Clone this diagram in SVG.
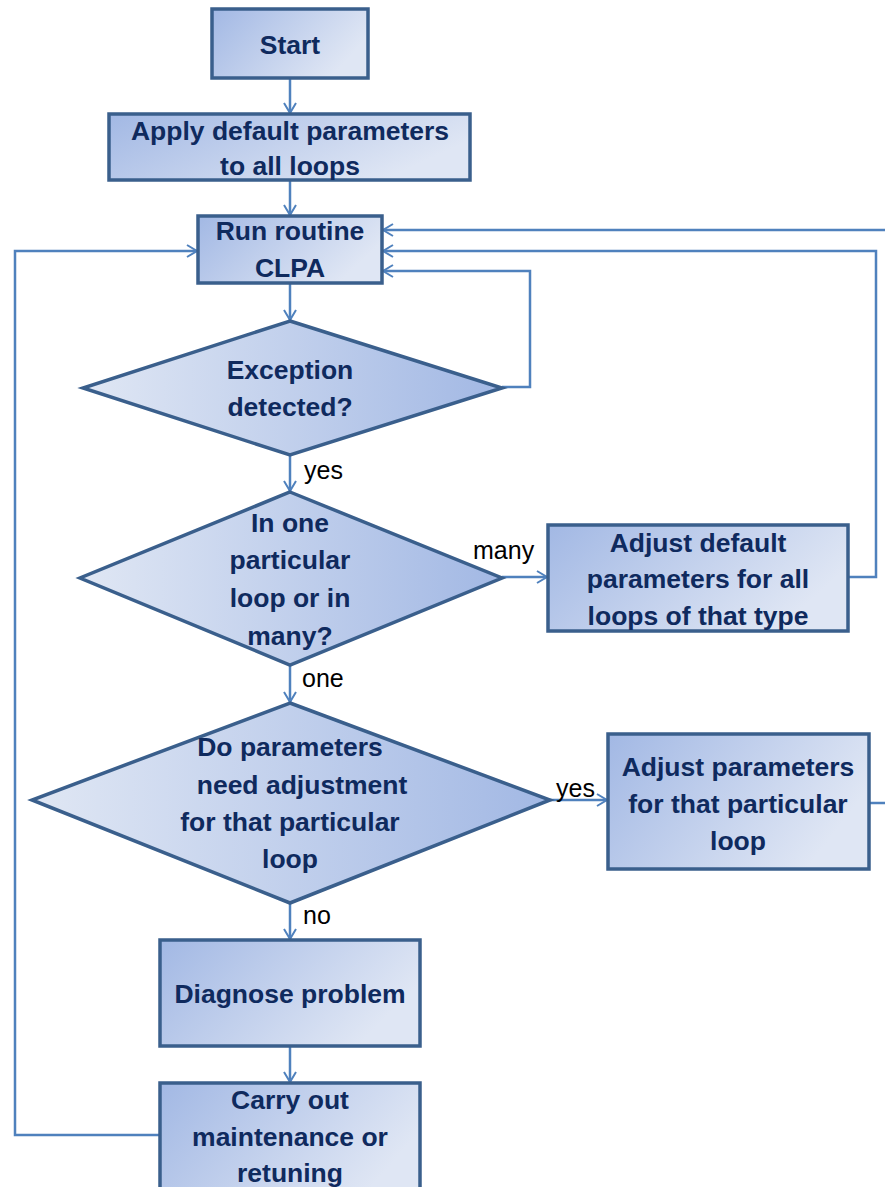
<svg xmlns="http://www.w3.org/2000/svg" width="885" height="1187" viewBox="0 0 885 1187">
<defs>
<linearGradient id="gRect" x1="0" y1="0" x2="1" y2="0.4">
<stop offset="0" stop-color="#A2B8E4"/>
<stop offset="1" stop-color="#DFE6F4"/>
</linearGradient>
<linearGradient id="gDia" x1="0" y1="0" x2="1" y2="0">
<stop offset="0" stop-color="#E0E7F4"/>
<stop offset="1" stop-color="#A2B8E4"/>
</linearGradient>
<marker id="arr" markerWidth="14" markerHeight="14" refX="11" refY="7" orient="auto" markerUnits="userSpaceOnUse">
<polyline points="1,1 11,7 1,13" fill="none" stroke="#4F81BD" stroke-width="2"/>
</marker>
<style>
.box{fill:url(#gRect);stroke:#3A5F8C;stroke-width:3.5}
.dia{fill:url(#gDia);stroke:#3A5F8C;stroke-width:3.5}
.t{font-family:"Liberation Sans",Arial,sans-serif;font-weight:bold;font-size:26.5px;fill:#0F2A5E;text-anchor:middle}
.lbl{font-family:"Liberation Sans",Arial,sans-serif;font-size:25px;fill:#000}
.c{fill:none;stroke:#4F81BD;stroke-width:2.5}
</style>
</defs>
<rect width="885" height="1187" fill="#fff"/>
<g id="connectors">
<path class="c" d="M290,78 V113" marker-end="url(#arr)"/>
<path class="c" d="M290,180 V215" marker-end="url(#arr)"/>
<path class="c" d="M290,283 V320" marker-end="url(#arr)"/>
<path class="c" d="M502,387 H530 V271 H383" marker-end="url(#arr)"/>
<path class="c" d="M290,455 V491" marker-end="url(#arr)"/>
<path class="c" d="M502,577 H547" marker-end="url(#arr)"/>
<path class="c" d="M848,577 H876 V251 H383" marker-end="url(#arr)"/>
<path class="c" d="M290,665 V702" marker-end="url(#arr)"/>
<path class="c" d="M550,800 H607" marker-end="url(#arr)"/>
<path class="c" d="M869,803 H885"/>
<path class="c" d="M885,230 H383" marker-end="url(#arr)"/>
<path class="c" d="M290,903 V939" marker-end="url(#arr)"/>
<path class="c" d="M290,1046 V1082" marker-end="url(#arr)"/>
<path class="c" d="M160,1135 H15 V251 H197" marker-end="url(#arr)"/>
<text class="lbl" x="304" y="479">yes</text>
<text class="lbl" x="473" y="559">many</text>
<text class="lbl" x="302" y="687">one</text>
<text class="lbl" x="556" y="797">yes</text>
<text class="lbl" x="303" y="924">no</text>
</g>
<g id="start">
<rect class="box" x="212" y="9" width="156" height="69"/>
<text class="t" x="290" y="54">Start</text>
</g>
<g id="apply">
<rect class="box" x="109" y="114" width="361" height="66"/>
<text class="t" x="290" y="140">Apply default parameters</text>
<text class="t" x="290" y="175">to all loops</text>
</g>
<g id="run">
<rect class="box" x="198" y="216" width="184" height="67"/>
<text class="t" x="290" y="240">Run routine</text>
<text class="t" x="290" y="277">CLPA</text>
</g>
<g id="exception">
<polygon class="dia" points="290,321 502,388 290,455 83,388"/>
<text class="t" x="290" y="379">Exception</text>
<text class="t" x="290" y="416">detected?</text>
</g>
<g id="oneormany">
<polygon class="dia" points="290,492 502,578 290,665 80,578"/>
<text class="t" x="290" y="532">In one</text>
<text class="t" x="290" y="569">particular</text>
<text class="t" x="290" y="607">loop or in</text>
<text class="t" x="290" y="645">many?</text>
</g>
<g id="adjustdefault">
<rect class="box" x="548" y="525" width="300" height="106"/>
<text class="t" x="698" y="552">Adjust default</text>
<text class="t" x="698" y="588">parameters for all</text>
<text class="t" x="698" y="625">loops of that type</text>
</g>
<g id="needadjust">
<polygon class="dia" points="290,703 550,800 290,903 32,800"/>
<text class="t" x="290" y="756">Do parameters</text>
<text class="t" x="302" y="794">need adjustment</text>
<text class="t" x="290" y="831">for that particular</text>
<text class="t" x="290" y="868">loop</text>
</g>
<g id="adjustparams">
<rect class="box" x="608" y="734" width="261" height="135"/>
<text class="t" x="738" y="776">Adjust parameters</text>
<text class="t" x="738" y="813">for that particular</text>
<text class="t" x="738" y="850">loop</text>
</g>
<g id="diagnose">
<rect class="box" x="160" y="940" width="260" height="106"/>
<text class="t" x="290" y="1003">Diagnose problem</text>
</g>
<g id="carryout">
<rect class="box" x="160" y="1083" width="260" height="120"/>
<text class="t" x="290" y="1109">Carry out</text>
<text class="t" x="290" y="1146">maintenance or</text>
<text class="t" x="290" y="1182">retuning</text>
</g>
</svg>
